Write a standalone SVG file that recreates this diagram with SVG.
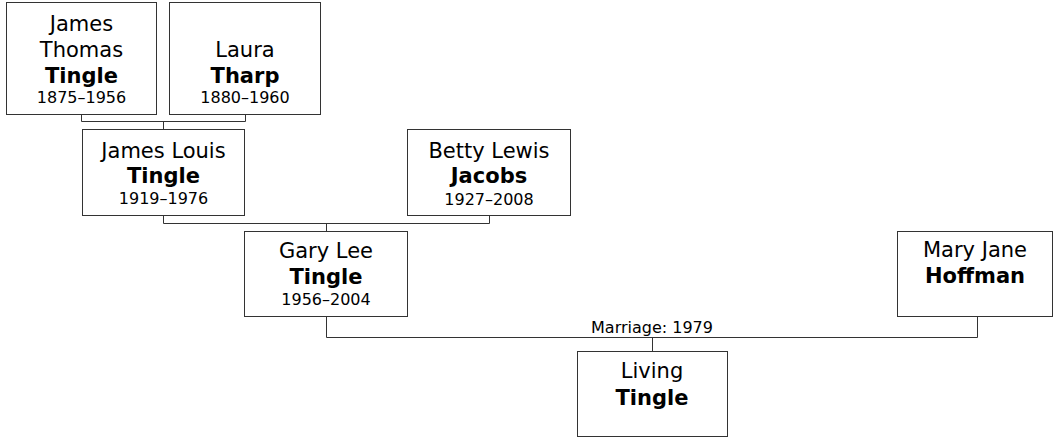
<svg xmlns="http://www.w3.org/2000/svg" width="1054" height="438" viewBox="0 0 1054 438">
<style>
.box{fill:#fff;stroke:#333;stroke-width:1}
.n{font-family:"DejaVu Sans",Verdana,sans-serif;font-size:21px;fill:#000;text-anchor:middle}
.b{font-weight:bold}
.d{font-family:"DejaVu Sans",Verdana,sans-serif;font-size:16px;fill:#000;text-anchor:middle}
.con{fill:none;stroke:#333;stroke-width:1}
</style>
<rect width="1054" height="438" fill="#fff"/>
<g id="connectors">
<path class="con" d="M81.5 114.5V121.5H245.5V114.5M163.5 121.5V129.5"/>
<path class="con" d="M163.5 215.5V223.5H489.5V215.5M326.5 223.5V231.5"/>
<path class="con" d="M326.5 316.5V337.5H977.5V316.5M652.5 337.5V351.5"/>
<text class="d" x="652" y="333">Marriage: 1979</text>
</g>
<g id="james-thomas-tingle">
<rect class="box" x="6.5" y="2.5" width="150" height="112"/>
<text class="n" x="81.5" y="31">James</text>
<text class="n" x="81.5" y="57">Thomas</text>
<text class="n b" x="81.5" y="83">Tingle</text>
<text class="d" x="81.5" y="103">1875–1956</text>
</g>
<g id="laura-tharp">
<rect class="box" x="169.5" y="2.5" width="151" height="112"/>
<text class="n" x="245" y="57">Laura</text>
<text class="n b" x="245" y="83">Tharp</text>
<text class="d" x="245" y="103">1880–1960</text>
</g>
<g id="james-louis-tingle">
<rect class="box" x="82.5" y="129.5" width="162" height="86"/>
<text class="n" x="163.5" y="158">James Louis</text>
<text class="n b" x="163.5" y="183">Tingle</text>
<text class="d" x="163.5" y="204">1919–1976</text>
</g>
<g id="betty-lewis-jacobs">
<rect class="box" x="407.5" y="129.5" width="163" height="86"/>
<text class="n" x="489" y="158">Betty Lewis</text>
<text class="n b" x="489" y="183">Jacobs</text>
<text class="d" x="489" y="205">1927–2008</text>
</g>
<g id="gary-lee-tingle">
<rect class="box" x="244.5" y="231.5" width="163" height="85"/>
<text class="n" x="326" y="258">Gary Lee</text>
<text class="n b" x="326" y="284">Tingle</text>
<text class="d" x="326" y="305">1956–2004</text>
</g>
<g id="mary-jane-hoffman">
<rect class="box" x="897.5" y="231.5" width="155" height="85"/>
<text class="n" x="975" y="257">Mary Jane</text>
<text class="n b" x="975" y="283">Hoffman</text>
</g>
<g id="living-tingle">
<rect class="box" x="577.5" y="351.5" width="150" height="85"/>
<text class="n" x="652" y="378">Living</text>
<text class="n b" x="652" y="405">Tingle</text>
</g>
</svg>
